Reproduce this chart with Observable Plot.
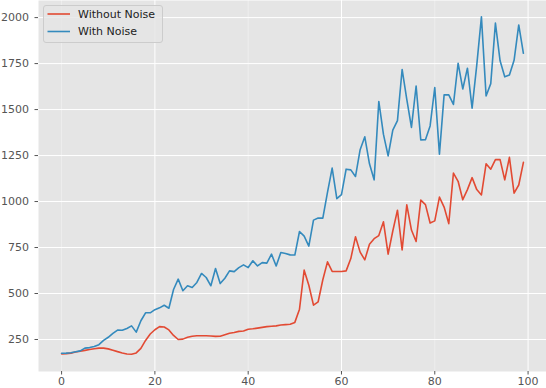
<!DOCTYPE html>
<html>
<head>
<meta charset="utf-8">
<script src="https://cdn.jsdelivr.net/npm/d3@7"></script>
<script src="https://cdn.jsdelivr.net/npm/@observablehq/plot@0.6"></script>
<style>
  html, body { margin: 0; padding: 0; background: #ffffff; }
  #chart { width: 546px; height: 388px; overflow: hidden; }
</style>
</head>
<body>
<div id="chart"></div>
<script>
// ---- Data ----
const steps = d3.range(100);
const withoutNoise = [
  172, 173, 176, 182, 186, 191, 196, 200, 203, 203,
  199, 192, 184, 177, 171, 170, 177, 202, 245, 280,
  303, 320, 318, 302, 272, 250, 252, 262, 268, 270,
  270, 270, 269, 267, 268, 276, 284, 288, 294, 296,
  306, 308, 312, 316, 320, 322, 324, 329, 331, 333,
  343, 415, 627, 545, 437, 455, 575, 672, 620, 620,
  620, 623, 690, 808, 725, 683, 768, 798, 815, 890,
  714, 840, 953, 737, 982, 845, 783, 1008, 983, 883,
  895, 1024, 970, 880, 1155, 1110, 1010, 1065, 1130, 1065,
  1036, 1205, 1176, 1228, 1228, 1118, 1240, 1046, 1090, 1213
];
const withNoise = [
  175, 176, 178, 183, 188, 203, 206, 212, 222, 245,
  262, 283, 301, 300, 310, 324, 290, 352, 395, 395,
  412, 422, 436, 420, 522, 578, 515, 542, 533, 560,
  609, 587, 542, 636, 554, 583, 623, 619, 641, 656,
  641, 678, 650, 668, 665, 714, 650, 723, 718, 710,
  709, 837, 812, 758, 899, 910, 910, 1050, 1182, 1016,
  1038, 1176, 1172, 1136, 1282, 1352, 1205, 1118, 1544, 1365,
  1248, 1388, 1440, 1718, 1555, 1403, 1628, 1335, 1336, 1411,
  1620, 1258, 1580, 1580, 1528, 1752, 1612, 1725, 1508, 1742,
  2004, 1574, 1641, 1970, 1765, 1678, 1688, 1768, 1960, 1806
];
const seriesNames = ["Without Noise", "With Noise"];
const seriesColors = ["#E24A33", "#348ABD"];
const xTicks = [0, 20, 40, 60, 80, 100];
const yTicks = [250, 500, 750, 1000, 1250, 1500, 1750, 2000];

// ---- Table for Plot ----
const seriesValues = [withoutNoise, withNoise];
const rows = [];
seriesNames.forEach((name, k) => {
  steps.forEach((s, i) => rows.push({step: s, value: seriesValues[k][i], series: name}));
});

const xStrong = xTicks.filter((t, i) => i % 2 === 1);
const xFaint = xTicks.filter((t, i) => i % 2 === 0);

const chart = Plot.plot({
  width: 546,
  height: 388,
  marginLeft: 38,
  marginRight: 0,
  marginTop: 0,
  marginBottom: 17,
  style: {fontFamily: "DejaVu Sans", fontSize: "11px", background: "#ffffff", color: "#555555"},
  x: {domain: [-4.95, 103.95]},
  y: {domain: [76, 2093]},
  color: {domain: seriesNames, range: seriesColors},
  marks: [
    Plot.frame({fill: "#E5E5E5", stroke: null}),
    Plot.gridY(yTicks, {stroke: "#ffffff", strokeOpacity: 1, strokeWidth: 1}),
    Plot.gridX(xStrong, {stroke: "#ffffff", strokeOpacity: 1, strokeWidth: 1}),
    Plot.gridX(xFaint, {stroke: "#ffffff", strokeOpacity: 0.35, strokeWidth: 1}),
    Plot.line(rows, {x: "step", y: "value", z: "series", stroke: "series", strokeWidth: 1.6}),
    Plot.axisX(xTicks, {tickSize: 3.5, tickPadding: 2.5, tickFormat: d3.format("d"), stroke: "#555555", fill: "#555555", label: null}),
    Plot.axisY(yTicks, {tickSize: 3.5, tickPadding: 6, tickFormat: d3.format("d"), stroke: "#555555", fill: "#555555", label: null})
  ]
});
document.getElementById("chart").appendChild(chart);

// ---- Legend inside the plot area (upper left) ----
const svg = d3.select(chart);
const lg = svg.append("g")
  .attr("font-family", "DejaVu Sans")
  .attr("font-size", 11)
  .attr("text-anchor", "start");
lg.append("rect")
  .attr("x", 43.5).attr("y", 5.5).attr("width", 119).attr("height", 37)
  .attr("rx", 2.5).attr("ry", 2.5)
  .attr("fill", "#E5E5E5").attr("fill-opacity", 0.8)
  .attr("stroke", "#CCCCCC").attr("stroke-width", 1);
seriesNames.forEach((name, k) => {
  const yy = 14 + k * 17.5;
  lg.append("line")
    .attr("x1", 47.5).attr("x2", 70).attr("y1", yy).attr("y2", yy)
    .attr("stroke", seriesColors[k]).attr("stroke-width", 1.6);
  lg.append("text")
    .attr("x", 78).attr("y", yy).attr("dy", "0.35em")
    .attr("text-anchor", "start")
    .attr("fill", "#222222")
    .text(name);
});
</script>
</body>
</html>
